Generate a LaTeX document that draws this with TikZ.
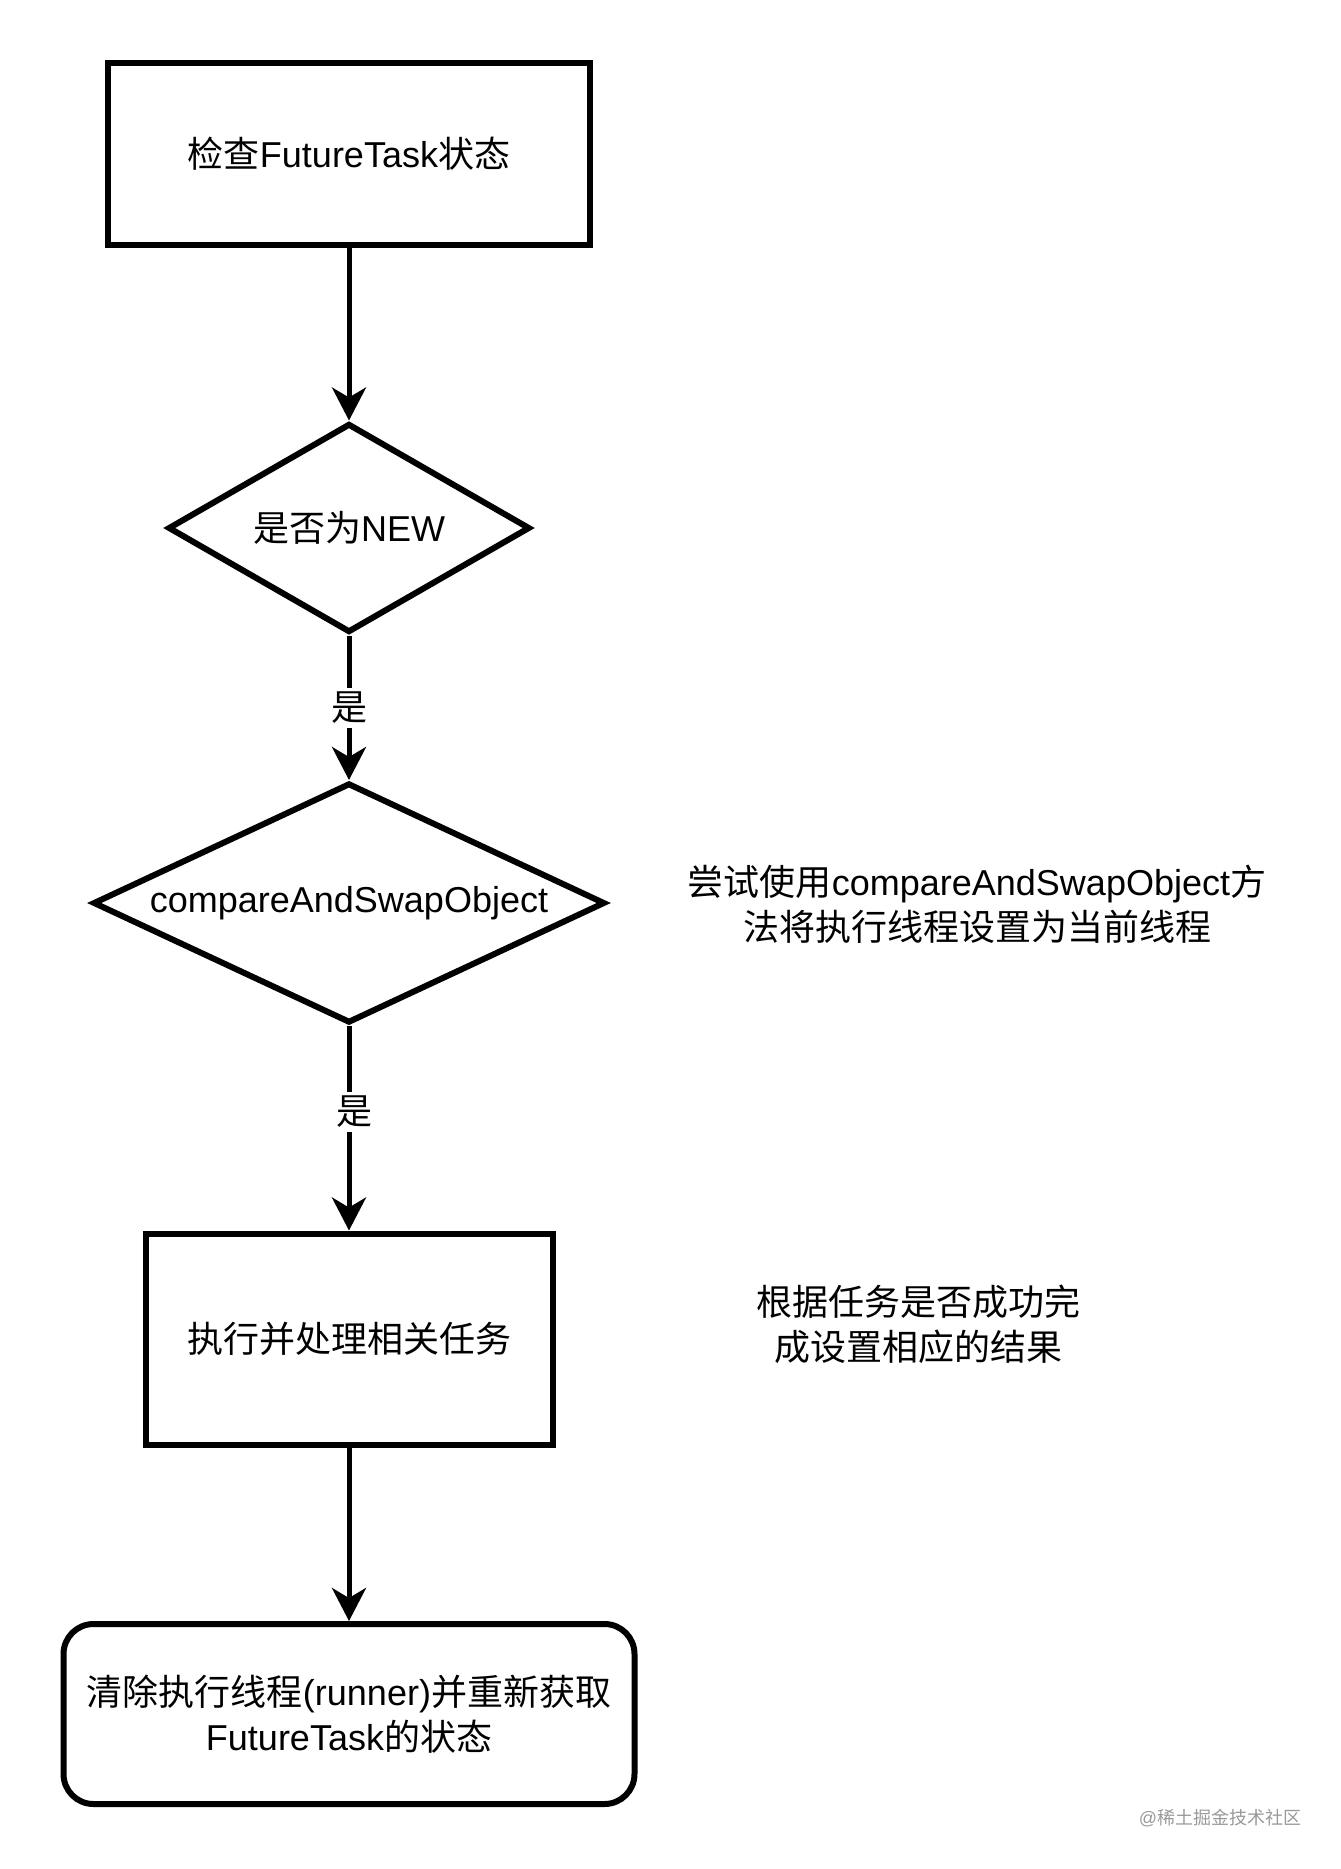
\documentclass[tikz,border=0pt]{standalone}
\usepackage{fontspec}
\setmainfont{Liberation Sans}
\newfontfamily\cjk{Noto Sans CJK SC}
\newcommand{\zh}[1]{{\cjk #1}}
\usetikzlibrary{shapes.geometric,arrows.meta}

\begin{document}
\begin{tikzpicture}[x=1pt,y=-1pt,
  every node/.style={font=\fontsize{36}{45}\selectfont},
  stepbox/.style={draw, line width=6pt, inner sep=0pt, align=center},
  decision/.style={draw, diamond, line width=6pt, inner sep=0pt, align=center},
  note/.style={align=center},
  flow/.style={line width=5pt, -{Stealth[length=33pt,width=34pt,inset=10pt]}},
  yes/.style={fill=white, inner sep=4pt}]
\useasboundingbox (0,0) rectangle (1341,1869);
\node[stepbox, minimum width=482pt, minimum height=182pt] (check) at (349,154) {\zh{检查}FutureTask\zh{状态}};
\node[decision, minimum width=362pt, minimum height=209pt, shape aspect=1.73] (isnew) at (349,528) {\zh{是否为}NEW};
\node[decision, minimum width=512pt, minimum height=240pt, shape aspect=2.13] (cas) at (349,903) {compareAndSwapObject};
\node[stepbox, minimum width=407pt, minimum height=211pt] (run) at (349,1339) {\zh{执行并处理相关任务}};
\node[stepbox, rounded corners=30pt, minimum width=571pt, minimum height=180pt] (reset) at (349,1714) {\zh{清除执行线程}(runner)\zh{并重新获取}\\FutureTask\zh{的状态}};
% side notes
\node[note] (casnote) at (977,904) {\zh{尝试使用}compareAndSwapObject\zh{方}\\\zh{法将执行线程设置为当前线程}};
\node[note] (runnote) at (918,1324) {\zh{根据任务是否成功完}\\\zh{成设置相应的结果}};
\node[text=black!40, font=\fontsize{18}{20}\selectfont] (mark) at (1220,1818) {@\zh{稀土掘金技术社区}};
\draw[flow] (check) -- (isnew);
\draw[flow] (isnew) -- node[yes] {\zh{是}} (cas);
\draw[flow] (cas) -- node[yes, pos=0.42, xshift=5pt] {\zh{是}} (run);
\draw[flow] (run) -- (reset);
\end{tikzpicture}
\end{document}
